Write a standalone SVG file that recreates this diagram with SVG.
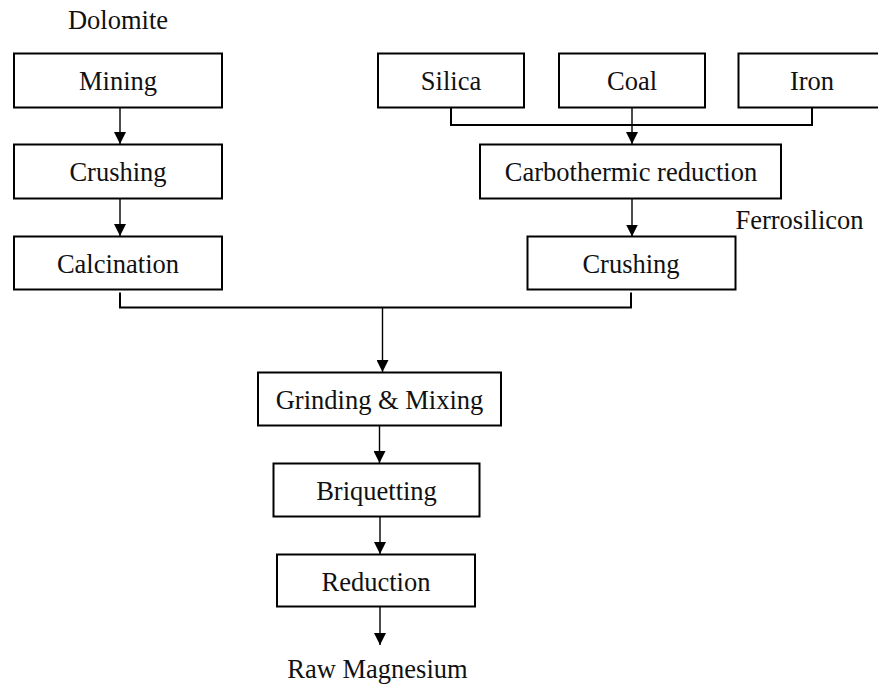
<svg xmlns="http://www.w3.org/2000/svg" width="878" height="686" viewBox="0 0 878 686">
<style>
.box{fill:#fff;stroke:#000;stroke-width:2}
.t{font-family:"Liberation Serif","Times New Roman",serif;font-size:26.5px;fill:#111;text-anchor:middle}
.ln{fill:none;stroke:#000;stroke-width:1.4}
.el{fill:none;stroke:#000;stroke-width:2}
</style>
<defs>
<marker id="ah" markerUnits="userSpaceOnUse" markerWidth="12" markerHeight="12" viewBox="0 0 12 12" refX="12" refY="6" orient="auto">
<path d="M0,0 L12,6 L0,12 Z" fill="#000"/>
</marker>
</defs>
<rect width="878" height="686" fill="#fff"/>
<g id="connectors">
<line class="ln" x1="120" y1="108" x2="120" y2="144" marker-end="url(#ah)"/>
<line class="ln" x1="120" y1="199" x2="120" y2="236" marker-end="url(#ah)"/>
<polyline class="el" points="451,108 451,125 812,125 812,108"/>
<line class="ln" x1="632" y1="108" x2="632" y2="144" marker-end="url(#ah)"/>
<line class="ln" x1="632" y1="199" x2="632" y2="236.5" marker-end="url(#ah)"/>
<polyline class="el" points="120,292.5 120,307.5 631,307.5 631,292.5"/>
<line class="ln" x1="382.5" y1="308" x2="382.5" y2="372" marker-end="url(#ah)"/>
<line class="ln" x1="379.5" y1="426" x2="379.5" y2="463" marker-end="url(#ah)"/>
<line class="ln" x1="380" y1="517" x2="380" y2="554" marker-end="url(#ah)"/>
<line class="ln" x1="380" y1="607" x2="380" y2="645" marker-end="url(#ah)"/>
</g>
<g id="dolomite"><text class="t" x="118" y="29">Dolomite</text></g>
<g id="mining"><rect class="box" x="14" y="53.5" width="208" height="54"/><text class="t" x="118" y="89.5">Mining</text></g>
<g id="crushing1"><rect class="box" x="14" y="144.5" width="208" height="54"/><text class="t" x="118" y="180.5">Crushing</text></g>
<g id="calcination"><rect class="box" x="14" y="236.5" width="208" height="53"/><text class="t" x="118" y="272.5">Calcination</text></g>
<g id="silica"><rect class="box" x="378" y="53.5" width="146" height="54"/><text class="t" x="451" y="89.5">Silica</text></g>
<g id="coal"><rect class="box" x="559" y="53.5" width="146" height="54"/><text class="t" x="632" y="89.5">Coal</text></g>
<g id="iron"><rect class="box" x="738.5" y="53.5" width="147" height="54"/><text class="t" x="812" y="89.5">Iron</text></g>
<g id="carbothermic"><rect class="box" x="480" y="144.5" width="301" height="54"/><text class="t" x="631" y="180.5">Carbothermic reduction</text></g>
<g id="ferrosilicon"><text class="t" x="799.5" y="229">Ferrosilicon</text></g>
<g id="crushing2"><rect class="box" x="527.5" y="236.5" width="208" height="53"/><text class="t" x="631" y="272.5">Crushing</text></g>
<g id="grinding"><rect class="box" x="258" y="372.5" width="243" height="53"/><text class="t" x="379.5" y="408.5">Grinding &amp; Mixing</text></g>
<g id="briquetting"><rect class="box" x="273.5" y="463.5" width="206" height="53"/><text class="t" x="376.5" y="499.5">Briquetting</text></g>
<g id="reduction"><rect class="box" x="277" y="554.5" width="198" height="52"/><text class="t" x="376" y="590.5">Reduction</text></g>
<g id="raw"><text class="t" x="377.5" y="678">Raw Magnesium</text></g>
</svg>
